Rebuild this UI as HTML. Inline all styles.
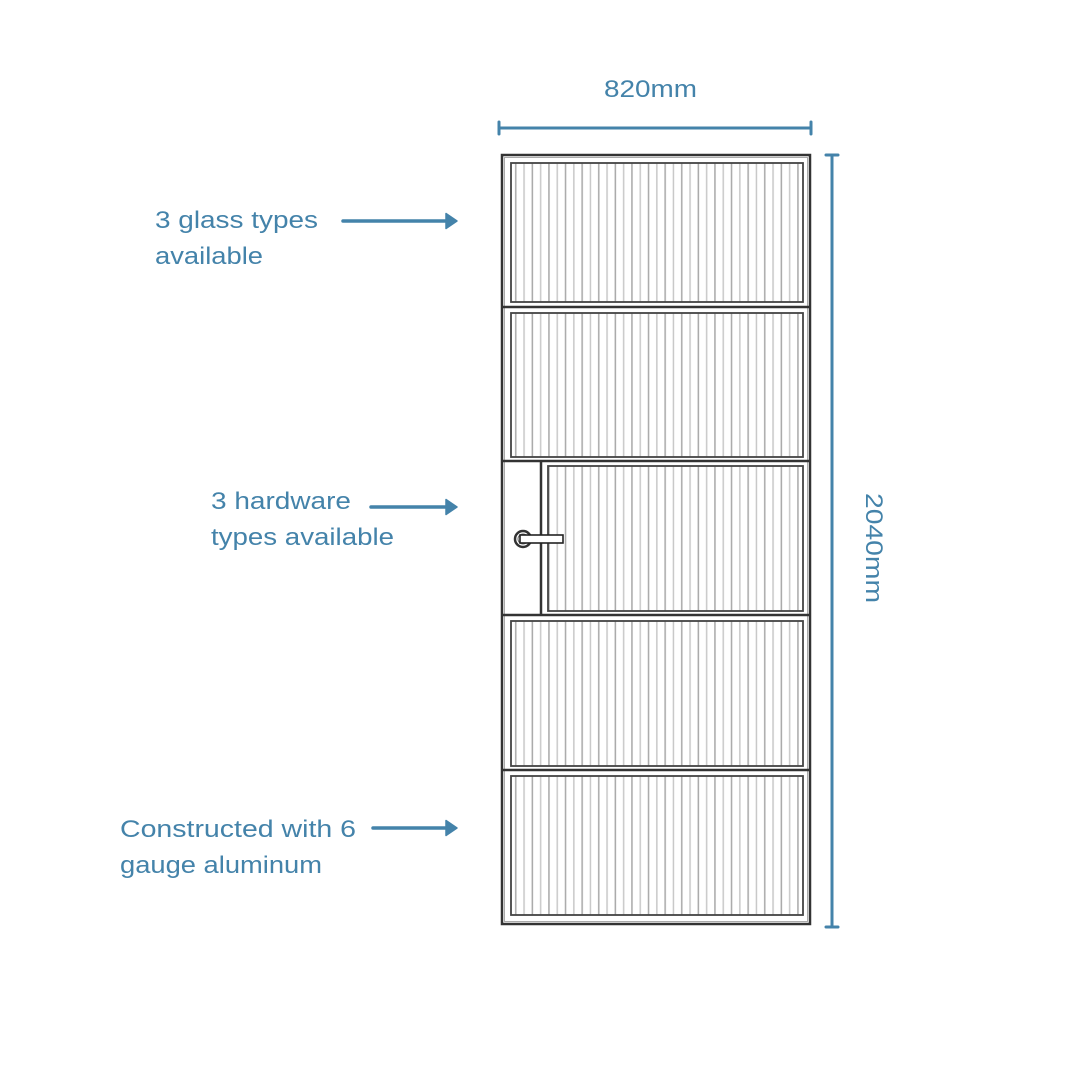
<!DOCTYPE html>
<html><head><meta charset="utf-8"><style>
html,body{margin:0;padding:0;background:#fff;}
svg{display:block;}
text{font-family:"Liberation Sans",sans-serif;font-size:24px;fill:#4483aa;}
</style></head><body>
<svg width="1080" height="1080" viewBox="0 0 1080 1080" xmlns="http://www.w3.org/2000/svg">
<defs>
<pattern id="st" x="510" y="0" width="16.6" height="10" patternUnits="userSpaceOnUse">
<rect x="0" y="0" width="16.6" height="10" fill="#fff"/>
<rect x="5" y="0" width="1.5" height="10" fill="#a8a8a8"/>
<rect x="13.3" y="0" width="1.5" height="10" fill="#c8c8c8"/>
</pattern>
</defs>

<g stroke="#4483aa" stroke-width="3" stroke-linecap="round" fill="none">
<line x1="499" y1="128" x2="811" y2="128"/>
<line x1="499" y1="122" x2="499" y2="134"/>
<line x1="811" y1="122" x2="811" y2="134"/>
<line x1="832" y1="155" x2="832" y2="927"/>
<line x1="826" y1="155" x2="838" y2="155"/>
<line x1="826" y1="927" x2="838" y2="927"/>
</g>
<g stroke="#4483aa" stroke-width="3.5" stroke-linecap="round" fill="none">
<line x1="343" y1="221" x2="448" y2="221"/>
<line x1="371" y1="507" x2="448" y2="507"/>
<line x1="373" y1="828" x2="448" y2="828"/>
</g>
<g fill="#4483aa" stroke="#4483aa" stroke-width="1.5" stroke-linejoin="round">
<path d="M446,213.5 L457,221 L446,228.5 Z"/>
<path d="M446,499.5 L457,507 L446,514.5 Z"/>
<path d="M446,820.5 L457,828 L446,835.5 Z"/>
</g>

<text x="604" y="97" textLength="93" lengthAdjust="spacingAndGlyphs">820mm</text>
<text transform="translate(866,493) rotate(90)" textLength="110" lengthAdjust="spacingAndGlyphs">2040mm</text>

<text x="155" y="228" textLength="163" lengthAdjust="spacingAndGlyphs">3 glass types</text>
<text x="155" y="264" textLength="108" lengthAdjust="spacingAndGlyphs">available</text>
<text x="211" y="509" textLength="140" lengthAdjust="spacingAndGlyphs">3 hardware</text>
<text x="211" y="545" textLength="183" lengthAdjust="spacingAndGlyphs">types available</text>
<text x="120" y="837" textLength="236" lengthAdjust="spacingAndGlyphs">Constructed with 6</text>
<text x="120" y="873" textLength="202" lengthAdjust="spacingAndGlyphs">gauge aluminum</text>

<rect x="502" y="155" width="308" height="769" fill="#fff" stroke="#333" stroke-width="2.5"/>
<rect x="504.5" y="157.5" width="303" height="764" fill="none" stroke="#aaa" stroke-width="1"/>
<g stroke="#333" stroke-width="2.5">
<line x1="502" y1="307" x2="810" y2="307"/>
<line x1="502" y1="461" x2="810" y2="461"/>
<line x1="502" y1="615" x2="810" y2="615"/>
<line x1="502" y1="770" x2="810" y2="770"/>
<line x1="541" y1="461" x2="541" y2="615"/>
</g>
<g fill="url(#st)" stroke="#444" stroke-width="1.8">
<rect x="511" y="163" width="292" height="139"/>
<rect x="511" y="313" width="292" height="144"/>
<rect x="548" y="466" width="255" height="145"/>
<rect x="511" y="621" width="292" height="145"/>
<rect x="511" y="776" width="292" height="139"/>
</g>
<circle cx="523" cy="539" r="8" fill="#fff" stroke="#333" stroke-width="2.5"/>
<circle cx="523" cy="539" r="5" fill="none" stroke="#666" stroke-width="1"/>
<rect x="520" y="535" width="43" height="8" fill="#fff" stroke="#222" stroke-width="1.6"/>
</svg>
</body></html>
